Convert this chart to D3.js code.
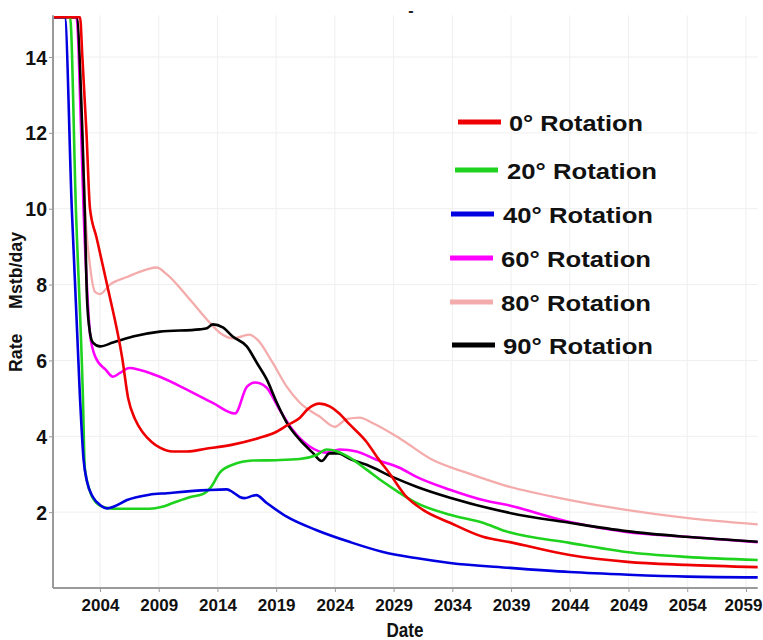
<!DOCTYPE html>
<html>
<head>
<meta charset="utf-8">
<script src="https://cdn.jsdelivr.net/npm/d3@7"></script>
<style>
  html, body { margin: 0; padding: 0; background: #fff; }
  svg { display: block; font-family: "Liberation Sans", Arial, sans-serif; }
</style>
</head>
<body>
<svg id="chart" width="763" height="640"></svg>
<script>
// ---- data (year, Mstb/day) ----
const seriesNames = ["0° Rotation", "20° Rotation", "40° Rotation", "60° Rotation", "80° Rotation", "90° Rotation"];
const seriesColors = ["#ee0000", "#1ed21e", "#0000e0", "#ff00ff", "#f4abab", "#000000"];

const rot0 = [[2000,15.05],[2002.3,15.05],[2002.5,14],[2002.85,12],[2003.15,10],[2003.7,9.25],[2004.6,8.0],[2005.9,6.05],[2006.4,5.0],[2007.0,4.44],[2007.65,4.1],[2008.4,3.85],[2009.1,3.7],[2010.2,3.6],[2011.4,3.6],[2013,3.67],[2015.3,3.78],[2017.6,3.96],[2018.9,4.1],[2020.0,4.3],[2021.0,4.48],[2021.7,4.72],[2022.7,4.86],[2023.6,4.78],[2024.3,4.62],[2025.3,4.3],[2026.7,3.85],[2027.6,3.45],[2028.7,3.0],[2030.1,2.4],[2031.5,2.06],[2033.8,1.72],[2036.6,1.35],[2038.9,1.21],[2044,0.87],[2048.9,0.69],[2053.9,0.61],[2060,0.55]];
const rot20 = [[2000,15.05],[2001.45,15.05],[2001.95,10],[2002.55,5],[2002.7,3.2],[2003.1,2.59],[2003.7,2.24],[2004.2,2.14],[2005.1,2.09],[2008.2,2.09],[2009.3,2.14],[2010.2,2.24],[2011.7,2.4],[2012.8,2.48],[2013.4,2.64],[2014.2,3.04],[2015.3,3.25],[2017.0,3.36],[2019,3.37],[2021,3.4],[2022.4,3.5],[2023.3,3.65],[2024.2,3.6],[2025.3,3.43],[2026.7,3.12],[2028.1,2.8],[2029.5,2.51],[2030.9,2.25],[2033.8,1.93],[2036.6,1.72],[2038.5,1.5],[2044,1.19],[2048.8,0.95],[2053.9,0.82],[2060,0.74]];
const rot40 = [[2000,15.05],[2001.0,15.05],[2001.6,10],[2002.3,5],[2002.6,3.4],[2002.9,2.8],[2003.4,2.4],[2004.0,2.19],[2004.6,2.1],[2005.2,2.15],[2006.3,2.32],[2008.2,2.46],[2009.7,2.5],[2013.1,2.58],[2014.8,2.6],[2015.3,2.53],[2015.9,2.4],[2016.3,2.37],[2017.0,2.43],[2017.3,2.45],[2018.2,2.24],[2019.9,1.88],[2022.4,1.53],[2025.3,1.21],[2028.1,0.95],[2030.9,0.79],[2033.8,0.66],[2038.9,0.53],[2044,0.42],[2049,0.35],[2054,0.3],[2060,0.28]];
const rot60 = [[2000,15.05],[2002.0,15.05],[2002.4,12],[2002.6,10],[2002.95,7.6],[2003.15,6.7],[2003.6,6.1],[2004.5,5.75],[2005.1,5.57],[2005.7,5.67],[2006.5,5.8],[2007.4,5.75],[2009.1,5.57],[2011.4,5.23],[2013.6,4.88],[2015.5,4.6],[2016.5,5.3],[2017.2,5.42],[2017.6,5.4],[2018.2,5.28],[2019.3,4.7],[2020.4,4.17],[2021.85,3.73],[2023.3,3.57],[2024.4,3.65],[2025.85,3.6],[2027.55,3.38],[2029.5,3.17],[2030.95,2.93],[2033.8,2.59],[2036.6,2.32],[2038.5,2.2],[2044,1.74],[2048.8,1.48],[2053.9,1.35],[2060,1.21]];
const rot80 = [[2000,15.05],[2002.0,15.05],[2002.5,12],[2002.7,10.2],[2003.15,8.5],[2003.6,7.8],[2004.0,7.75],[2004.85,8.0],[2006.3,8.2],[2008.0,8.4],[2008.8,8.45],[2009.7,8.27],[2011.4,7.7],[2013.1,7.08],[2014.2,6.73],[2015.3,6.58],[2016.7,6.68],[2017.4,6.55],[2018.7,5.94],[2019.9,5.31],[2021.0,4.89],[2022.7,4.52],[2024.0,4.25],[2025.0,4.45],[2026.1,4.49],[2027.2,4.35],[2029.5,3.95],[2032.3,3.38],[2035.2,3.04],[2038.5,2.7],[2044,2.32],[2048.8,2.06],[2053.9,1.85],[2060,1.68]];
const rot90 = [[2000,15.05],[2002.0,15.05],[2002.5,12],[2002.7,10],[2002.9,7.6],[2003.15,6.73],[2003.4,6.47],[2004.0,6.37],[2005.1,6.47],[2006.8,6.63],[2009.1,6.76],[2012.5,6.82],[2013.1,6.85],[2013.6,6.95],[2014.46,6.87],[2015.3,6.63],[2016.5,6.37],[2017.35,5.94],[2018.2,5.5],[2019.05,4.89],[2019.9,4.36],[2021.0,3.91],[2022.1,3.57],[2022.87,3.35],[2023.55,3.55],[2024.3,3.55],[2025.3,3.4],[2026.7,3.25],[2028.9,2.93],[2030.95,2.67],[2033.8,2.38],[2038.9,1.98],[2044,1.72],[2048.8,1.5],[2053.9,1.35],[2060,1.22]];

const xTicks = [2004, 2009, 2014, 2019, 2024, 2029, 2034, 2039, 2044, 2049, 2054, 2059];
const yTicks = [2, 4, 6, 8, 10, 12, 14];
const xLabel = "Date";
const yLabel = "Rate     Mstb/day";
const titleText = "-";

// ---- layout ----
const svg = d3.select("#chart");
const L = 53, R = 757.7, T = 15.3, B = 588;
const x = d3.scaleLinear().domain([2000, 2060]).range([L, R]);
const y = d3.scaleLinear().domain([0, 15.1]).range([B, T]);

svg.append("rect").attr("width", 763).attr("height", 640).attr("fill", "#fff");

// grid
const grid = svg.append("g").attr("stroke", "#efefef").attr("stroke-width", 1);
grid.selectAll(".gx").data(xTicks).join("line")
  .attr("x1", d => x(d)).attr("x2", d => x(d)).attr("y1", T).attr("y2", B);
grid.selectAll(".gy").data(yTicks).join("line")
  .attr("x1", L).attr("x2", R).attr("y1", d => y(d)).attr("y2", d => y(d));

// clip
svg.append("clipPath").attr("id", "clip").append("rect")
  .attr("x", L).attr("y", T).attr("width", R - L + 2).attr("height", B - T);

// lines
const allSeries = [rot0, rot20, rot40, rot60, rot80, rot90];
const line = d3.line().x(d => x(d[0])).y(d => y(d[1])).curve(d3.curveMonotoneX);
const drawOrder = [4, 3, 5, 1, 2, 0];
const lg = svg.append("g").attr("clip-path", "url(#clip)");
drawOrder.forEach(i => {
  lg.append("path").datum(allSeries[i])
    .attr("fill", "none")
    .attr("stroke", seriesColors[i])
    .attr("stroke-width", i === 4 ? 2.3 : 2.6)
    .attr("stroke-linejoin", "round")
    .attr("d", line);
});

// axes
const xAxis = svg.append("g").attr("transform", `translate(0,${B})`)
  .call(d3.axisBottom(x).tickValues(xTicks).tickFormat(d3.format("d")).tickSize(4).tickSizeOuter(0).tickPadding(6));
const yAxis = svg.append("g").attr("transform", `translate(${L},0)`)
  .call(d3.axisLeft(y).tickValues(yTicks).tickFormat(d3.format("d")).tickSize(4).tickSizeOuter(0).tickPadding(2));
[xAxis, yAxis].forEach(a => {
  a.select(".domain").attr("stroke", "#9a9a9a").attr("stroke-width", 2);
  a.selectAll(".tick line").attr("stroke", "#9a9a9a").attr("stroke-width", 1);
  a.selectAll("text").attr("fill", "#111").attr("font-weight", "bold")
    .attr("font-family", "'Liberation Sans', Arial, sans-serif");
});
xAxis.select(".domain").attr("d", `M${L},0H${R}`);
yAxis.select(".domain").attr("d", `M0,${B}V${T}`);
xAxis.selectAll("text").attr("font-size", 17).attr("dy", null).attr("y", 22.5);
xAxis.selectAll(".tick").filter(d => d === 2059).select("text").attr("x", -3);
yAxis.selectAll("text").attr("font-size", 19.5).attr("dy", "0.36em");

// axis titles
svg.append("text").attr("x", 405).attr("y", 637).attr("text-anchor", "middle")
  .attr("font-size", 19.5).attr("font-weight", "bold").attr("fill", "#111")
  .attr("textLength", 37).attr("lengthAdjust", "spacingAndGlyphs")
  .text(xLabel);
svg.append("text").attr("transform", "translate(22,302) rotate(-90)")
  .attr("text-anchor", "middle").attr("font-size", 19).attr("font-weight", "bold").attr("fill", "#111")
  .style("white-space", "pre")
  .attr("textLength", 140).attr("lengthAdjust", "spacingAndGlyphs")
  .text(yLabel);

// title (mostly cropped in the original)
svg.append("text").attr("x", 411).attr("y", 16).attr("text-anchor", "middle")
  .attr("font-size", 16).attr("font-weight", "bold").attr("fill", "#222").text(titleText);

// legend
const legY = [122, 170, 214, 258, 302, 345];
const legLineX = [458, 455, 451, 450, 450, 452];
const legTextX = [509, 507, 503, 501, 501, 503];
const legend = svg.append("g");
seriesNames.forEach((name, i) => {
  legend.append("line")
    .attr("x1", legLineX[i]).attr("x2", legLineX[i] + 43)
    .attr("y1", legY[i]).attr("y2", legY[i])
    .attr("stroke", seriesColors[i]).attr("stroke-width", 5);
  legend.append("text")
    .attr("x", legTextX[i]).attr("y", legY[i] + 9)
    .attr("font-size", 22).attr("font-weight", "bold").attr("fill", "#111")
    .attr("textLength", i === 0 ? 134 : 150).attr("lengthAdjust", "spacingAndGlyphs")
    .text(name);
});
</script>
</body>
</html>
